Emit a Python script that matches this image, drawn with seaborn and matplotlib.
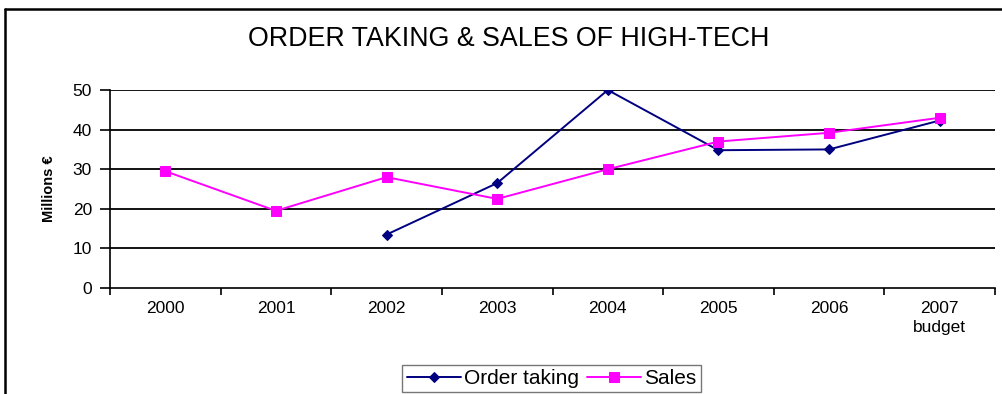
import numpy as np
import pandas as pd
import seaborn as sns
import matplotlib.pyplot as plt
from matplotlib.lines import Line2D

# valores (milhões de euros)
years = ['2000', '2001', '2002', '2003', '2004', '2005', '2006', '2007\nbudget']
order_taking = [np.nan, np.nan, 13.5, 26.5, 50.0, 34.8, 35.0, 42.3]
sales = [29.5, 19.5, 28.0, 22.5, 30.0, 37.0, 39.2, 43.0]
y_ticks = [0, 10, 20, 30, 40, 50]

df = pd.DataFrame({'pos': np.arange(len(years)),
                   'Order taking': order_taking,
                   'Sales': sales})

sns.set_style('white')
plt.rcParams['font.family'] = ['Liberation Sans', 'DejaVu Sans']
plt.rcParams['text.color'] = 'black'
plt.rcParams['xtick.color'] = 'black'
plt.rcParams['ytick.color'] = 'black'
plt.rcParams['axes.labelcolor'] = 'black'

fig = plt.figure(figsize=(10.03, 3.94), dpi=100)
ax = fig.add_axes([0.1097, 0.269, 0.8823, 0.5025])

sns.lineplot(data=df, x='pos', y='Order taking', ax=ax, color='#000080',
             marker='D', markersize=5, linewidth=1.4, label='Order taking',
             markeredgecolor='#000080')
sns.lineplot(data=df, x='pos', y='Sales', ax=ax, color='#FF00FF',
             marker='s', markersize=7, linewidth=1.4, label='Sales',
             markeredgecolor='#FF00FF')

# eixos
ax.set_xlim(-0.5, len(years) - 0.5)
ax.set_ylim(0, 50)
ax.set_yticks(y_ticks)
ax.set_xticks(df['pos'])
ax.set_xticklabels(years, fontsize=12.5, linespacing=1.35)
ax.set_xticks(np.arange(len(years) + 1) - 0.5, minor=True)
ax.tick_params(axis='x', which='major', length=0, pad=9)
ax.tick_params(axis='x', which='minor', length=5, width=1.2,
               direction='out', bottom=True, color='black')
ax.tick_params(axis='y', length=7, width=1.2, direction='out', left=True,
               labelsize=12.5, color='black', pad=6)
for yy in y_ticks[1:]:
    ax.axhline(yy, color='black', linewidth=1.3, zorder=0)
for s in ['top', 'right']:
    ax.spines[s].set_visible(False)
ax.spines['left'].set_color('black')
ax.spines['bottom'].set_color('black')
ax.spines['left'].set_linewidth(1.2)
ax.spines['bottom'].set_linewidth(1.2)
ax.set_xlabel('')
ax.set_ylabel('Millions €', fontsize=10.5, fontweight='bold', labelpad=12)

fig.suptitle('ORDER TAKING & SALES OF HIGH-TECH', x=0.507, y=0.935,
             fontsize=19.3)

ax.get_legend().remove()
handles, labels = ax.get_legend_handles_labels()
leg = fig.legend(handles, labels, loc='upper center', ncol=2,
                 bbox_to_anchor=(0.55, 0.1), fontsize=15,
                 frameon=True, fancybox=False, edgecolor='#555555',
                 handlelength=2.6, handletextpad=0.15, columnspacing=0.4,
                 borderpad=0.2)

# moldura da figura (só esquerda e topo visíveis)
fig.add_artist(Line2D([0.005, 0.005], [0, 0.977], color='black',
                      linewidth=1.8, transform=fig.transFigure))
fig.add_artist(Line2D([0.005, 1], [0.977, 0.977], color='black',
                      linewidth=1.8, transform=fig.transFigure))

plt.savefig('out.png', dpi=100)
